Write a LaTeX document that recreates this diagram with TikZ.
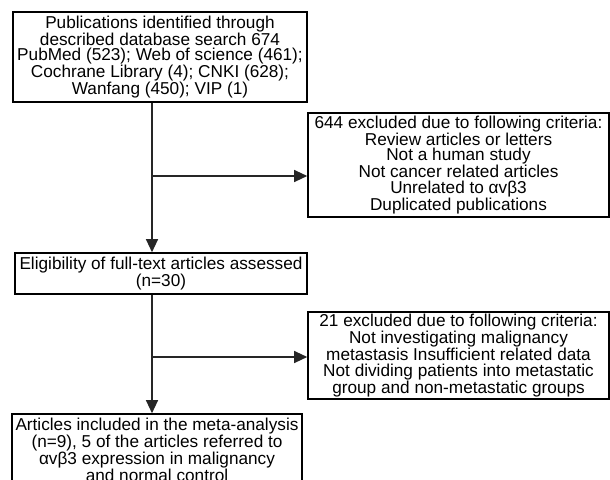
\documentclass[tikz,border=0pt]{standalone}
\usepackage{fontspec}
\setmainfont{Liberation Sans}
\usetikzlibrary{arrows.meta}
\tikzset{
    box/.style={draw,line width=1.6pt,inner sep=0pt,align=center,font=\fontsize{17.2}{15.6}\selectfont},
    arr/.style={line width=1.2pt,draw=black!85,-{Triangle[length=13pt,width=12pt]}}
}
\begin{document}
\begin{tikzpicture}[x=1pt,y=-1pt]
        \useasboundingbox (0,0) rectangle (610,479);

        \node[box,minimum width=294pt,minimum height=90pt] (pub) at (160,57) {Publications identified through\\described database search 674\\PubMed (523); Web of science (461);\\Cochrane Library (4); CNKI (628);\\Wanfang (450); VIP (1)};
        \node[box,minimum width=301pt,minimum height=104pt] (excl1) at (458.5,165) {644 excluded due to following criteria:\\Review articles or letters\\Not a human study\\Not cancer related articles\\Unrelated to αvβ3\\Duplicated publications};
        \node[box,minimum width=292pt,minimum height=41pt] (elig) at (161,273.5) {Eligibility of full-text articles assessed\\(n=30)};
        \node[box,minimum width=301pt,minimum height=87pt] (excl2) at (458.5,355.5) {21 excluded due to following criteria:\\Not investigating malignancy\\metastasis Insufficient related data\\Not dividing patients into metastatic\\group and non-metastatic groups};
        \node[box,minimum width=290pt,minimum height=72pt] (incl) at (157,450) {Articles included in the meta-analysis\\(n=9), 5 of the articles referred to\\αvβ3 expression in malignancy\\and normal control};

        \coordinate (j1) at (152,176);
        \coordinate (j2) at (152,357);

        \draw[arr] (j1 |- pub.south) -- (j1 |- elig.north);
        \draw[arr] (j1) -- (j1 -| excl1.west);

        \draw[arr] (j2 |- elig.south) -- (j2 |- incl.north);
        \draw[arr] (j2) -- (j2 -| excl2.west);

    \end{tikzpicture}
\end{document}
